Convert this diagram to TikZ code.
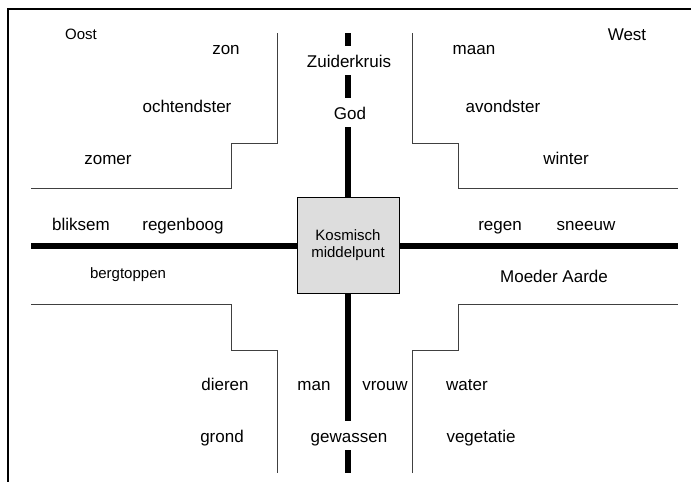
\documentclass[tikz,border=0pt]{standalone}
\usepackage{fontspec}
\setmainfont{Liberation Sans}
\begin{document}
\begin{tikzpicture}[x=1pt,y=-1pt,
  lbl/.style={anchor=base, inner sep=0pt, font=\fontsize{17}{20}\selectfont},
  sml/.style={anchor=base, inner sep=0pt, font=\fontsize{15}{18}\selectfont},
  thickline/.style={line width=6pt},
  thinline/.style={line width=1pt, draw=black!75},
  framestyle/.style={line width=2pt}]
\definecolor{boxgray}{RGB}{221,221,221}
\useasboundingbox (0,0) rectangle (691,482);
% frame
\coordinate (f0) at (8,483);
\coordinate (f1) at (692,9);
\draw[framestyle] (f0) |- (f1);
% centre box
\node[draw, line width=0.8pt, fill=boxgray, minimum width=102pt, minimum height=96pt,
      inner sep=0pt, align=center, font=\fontsize{15}{17}\selectfont] (center) at (348,245.5) {Kosmisch\\middelpunt};
% thick axes
\coordinate (vt0) at (348,33);
\coordinate (vt1) at (348,46);
\coordinate (vt2) at (348,75);
\coordinate (vt3) at (348,98);
\coordinate (vt4) at (348,127);
\coordinate (vb1) at (348,421);
\coordinate (vb2) at (348,450);
\coordinate (vb3) at (348,473);
\coordinate (hl) at (31,245.5);
\coordinate (hr) at (678,245.5);
\draw[thickline] (vt0) -- (vt1);
\draw[thickline] (vt2) -- (vt3);
\draw[thickline] (vt4) -- (center.north);
\draw[thickline] (center.south) -- (vb1);
\draw[thickline] (vb2) -- (vb3);
\draw[thickline] (hl) -- (center.west);
\draw[thickline] (center.east) -- (hr);
% thin stepped lines
\coordinate (tl0) at (31,188);
\coordinate (tl1) at (231,143);
\coordinate (tl2) at (277,33);
\draw[thinline] (tl0) -| (tl1) -| (tl2);
\coordinate (tr0) at (412,33);
\coordinate (tr1) at (458,143);
\coordinate (tr2) at (678,188);
\draw[thinline] (tr0) |- (tr1) |- (tr2);
\coordinate (bl0) at (31,304);
\coordinate (bl1) at (231,350);
\coordinate (bl2) at (277,473);
\draw[thinline] (bl0) -| (bl1) -| (bl2);
\coordinate (br0) at (412,473);
\coordinate (br1) at (458,350);
\coordinate (br2) at (678,304);
\draw[thinline] (br0) |- (br1) |- (br2);
% labels
\node[sml] (oost) at (81,39) {Oost};
\node[lbl] (west) at (627,40.5) {West};
\node[lbl] (zon) at (226,54.5) {zon};
\node[lbl] (maan) at (474,54.5) {maan};
\node[lbl] (zuid) at (349,67) {Zuiderkruis};
\node[lbl] (god) at (350,119) {God};
\node[lbl] (ochtend) at (187,112.5) {ochtendster};
\node[lbl] (avond) at (503,112.5) {avondster};
\node[lbl] (zomer) at (108,164) {zomer};
\node[lbl] (winter) at (566,164) {winter};
\node[lbl] (bliksem) at (81,230) {bliksem};
\node[lbl] (regenboog) at (183,230) {regenboog};
\node[lbl] (regen) at (500,230) {regen};
\node[lbl] (sneeuw) at (586,230) {sneeuw};
\node[sml] (berg) at (128,278) {bergtoppen};
\node[lbl] (moeder) at (554,282) {Moeder Aarde};
\node[lbl] (dieren) at (225,390) {dieren};
\node[lbl] (man) at (314,390) {man};
\node[lbl] (vrouw) at (385,390) {vrouw};
\node[lbl] (water) at (467,390) {water};
\node[lbl] (grond) at (222,442) {grond};
\node[lbl] (gewassen) at (349,442) {gewassen};
\node[lbl] (veget) at (481,442) {vegetatie};
\end{tikzpicture}
\end{document}
